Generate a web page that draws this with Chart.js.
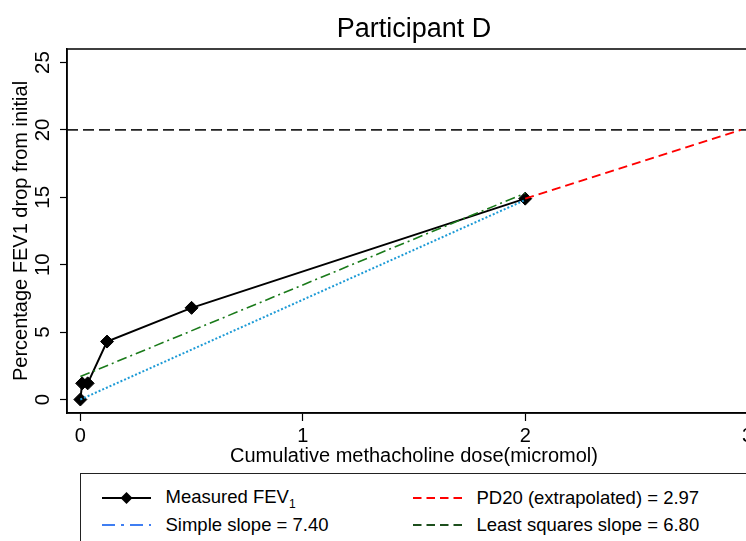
<!DOCTYPE html>
<html>
<head>
<meta charset="utf-8">
<script src="https://cdn.jsdelivr.net/npm/chart.js@4.4.0/dist/chart.umd.min.js"></script>
<style>
	html, body { margin: 0; padding: 0; background: #fff; overflow: hidden; width: 746px; height: 541px; }
	#wrap { position: absolute; left: 0; top: 0; width: 828px; height: 470px; }
	#legend {
		position: absolute; left: 80px; top: 473px; width: 760px; height: 100px;
		border: 1.5px solid #222; background: #fff;
		font-family: "Liberation Sans", Arial, sans-serif; font-size: 18.5px; color: #000;
	}
	.item { position: absolute; height: 22px; display: flex; align-items: center; white-space: nowrap; }
	.item svg { margin-right: 15px; }
	sub { font-size: 12px; vertical-align: -5px; }
</style>
</head>
<body>
<div id="wrap"><canvas id="chart"></canvas></div>
<div id="legend">
	<div class="item" style="left:20.5px; top:13px;">
		<svg width="49" height="16"><line x1="0" y1="8" x2="49" y2="8" stroke="#000" stroke-width="2"/><path d="M24.5 2 L30.5 8 L24.5 14 L18.5 8 Z" fill="#000"/></svg>
		<span>Measured FEV<sub>1</sub></span>
	</div>
	<div class="item" style="left:331.5px; top:13px;">
		<svg width="49" height="16"><line x1="0" y1="8" x2="49" y2="8" stroke="#ff0000" stroke-width="2" stroke-dasharray="8.5,5"/></svg>
		<span>PD20 (extrapolated) = 2.97</span>
	</div>
	<div class="item" style="left:20.5px; top:40px;">
		<svg width="49" height="16"><line x1="0" y1="8" x2="49" y2="8" stroke="#3f7ef2" stroke-width="2" stroke-dasharray="13,6,3,6"/></svg>
		<span>Simple slope = 7.40</span>
	</div>
	<div class="item" style="left:331.5px; top:40px;">
		<svg width="49" height="16"><line x1="0" y1="8" x2="49" y2="8" stroke="#1d4f1d" stroke-width="2" stroke-dasharray="8.5,5"/></svg>
		<span>Least squares slope = 6.80</span>
	</div>
</div>
<script>
// measured points (cumulative dose, % drop)
const doseX = [0, 0.008, 0.033, 0.12, 0.5, 2.0];
const fevDrop = [0, 1.2, 1.2, 4.3, 6.8, 14.9];

// fitted / derived lines
const simpleX = [0, 2.0];
const simpleY = [0, 14.8];
const lsqX = [0, 2.0];
const lsqY = [1.7, 15.3];
const pd20X = [2.0, 2.97];
const pd20Y = [14.9, 20];
const refLevel = 20;

// axes (plot region runs just past the right edge of the window)
const xMin = -0.06, xMax = 3.06;
const yMin = -1, yMax = 26;
const xTicks = [0, 1, 2, 3];
const yTicks = [0, 5, 10, 15, 20, 25];

const pts = (xs, ys) => xs.map((x, i) => ({ x, y: ys[i] }));

// plot region border (Stata style box)
const boxPlugin = {
	id: "plotBox",
	afterDraw(chart) {
		const { ctx, chartArea: a } = chart;
		ctx.save();
		ctx.strokeStyle = "#000";
		ctx.lineWidth = 1.5;
		ctx.strokeRect(a.left, a.top, a.right - a.left, a.bottom - a.top);
		ctx.restore();
	},
};

const font = "'Liberation Sans', Arial, sans-serif";

new Chart(document.getElementById("chart"), {
	type: "scatter",
	data: {
		datasets: [
			{
				label: "Measured FEV1",
				data: pts(doseX, fevDrop),
				showLine: true,
				borderColor: "#000",
				backgroundColor: "#000",
				borderWidth: 2,
				pointStyle: "rectRot",
				pointRadius: 6.5,
				pointBorderWidth: 1,
				order: 5,
			},
			{
				label: "Reference 20%",
				data: [{ x: xMin, y: refLevel }, { x: xMax, y: refLevel }],
				showLine: true,
				borderColor: "#222",
				borderWidth: 1.8,
				borderDash: [11, 5],
				pointRadius: 0,
				order: 4,
			},
			{
				label: "Least squares",
				data: pts(lsqX, lsqY),
				showLine: true,
				borderColor: "#1a7a1a",
				borderWidth: 1.6,
				borderDash: [10, 4, 2, 4],
				pointRadius: 0,
				order: 3,
			},
			{
				label: "Simple slope",
				data: pts(simpleX, simpleY),
				showLine: true,
				borderColor: "#1c9ad6",
				borderWidth: 2,
				borderDash: [2, 2],
				pointRadius: 0,
				order: 2,
			},
			{
				label: "PD20",
				data: pts(pd20X, pd20Y),
				showLine: true,
				borderColor: "#ff0000",
				borderWidth: 2,
				borderDash: [9, 5],
				pointRadius: 0,
				order: 1,
			},
		],
	},
	options: {
		responsive: true,
		maintainAspectRatio: false,
		animation: false,
		layout: { padding: { left: 0, right: 67, top: 0, bottom: 0 } },
		scales: {
			x: {
				type: "linear",
				min: xMin,
				max: xMax,
				afterBuildTicks: (s) => { s.ticks = xTicks.map((v) => ({ value: v })); },
				afterFit: (s) => { s.height = 57; },
				ticks: { color: "#000", font: { family: font, size: 20 }, padding: 3 },
				grid: { drawOnChartArea: false, color: "#000", tickLength: 8, tickWidth: 1.2 },
				border: { color: "#000", width: 1.5 },
				title: {
					display: true,
					text: "Cumulative methacholine dose(micromol)",
					color: "#000",
					font: { family: font, size: 20 },
					padding: { top: 0, bottom: 2 },
				},
			},
			y: {
				type: "linear",
				min: yMin,
				max: yMax,
				afterBuildTicks: (s) => { s.ticks = yTicks.map((v) => ({ value: v })); },
				afterFit: (s) => { s.width = 67; },
				ticks: {
					color: "#000",
					font: { family: font, size: 20.5 },
					minRotation: 90,
					maxRotation: 90,
					crossAlign: "center",
					padding: 5,
				},
				grid: { drawOnChartArea: false, color: "#000", tickLength: 7, tickWidth: 1.2 },
				border: { color: "#000", width: 1.5 },
				title: {
					display: true,
					text: "Percentage FEV1 drop from initial",
					color: "#000",
					font: { family: font, size: 20 },
					padding: { top: 9, bottom: 0 },
				},
			},
		},
		plugins: {
			legend: { display: false },
			tooltip: { enabled: false },
			title: {
				display: true,
				fullSize: false, // centre over the plot region, as Stata does
				text: "Participant D",
				color: "#000",
				font: { family: font, size: 27, weight: "normal" },
				padding: { top: 13, bottom: 3.6 },
			},
		},
	},
	plugins: [boxPlugin],
});
</script>
</body>
</html>
